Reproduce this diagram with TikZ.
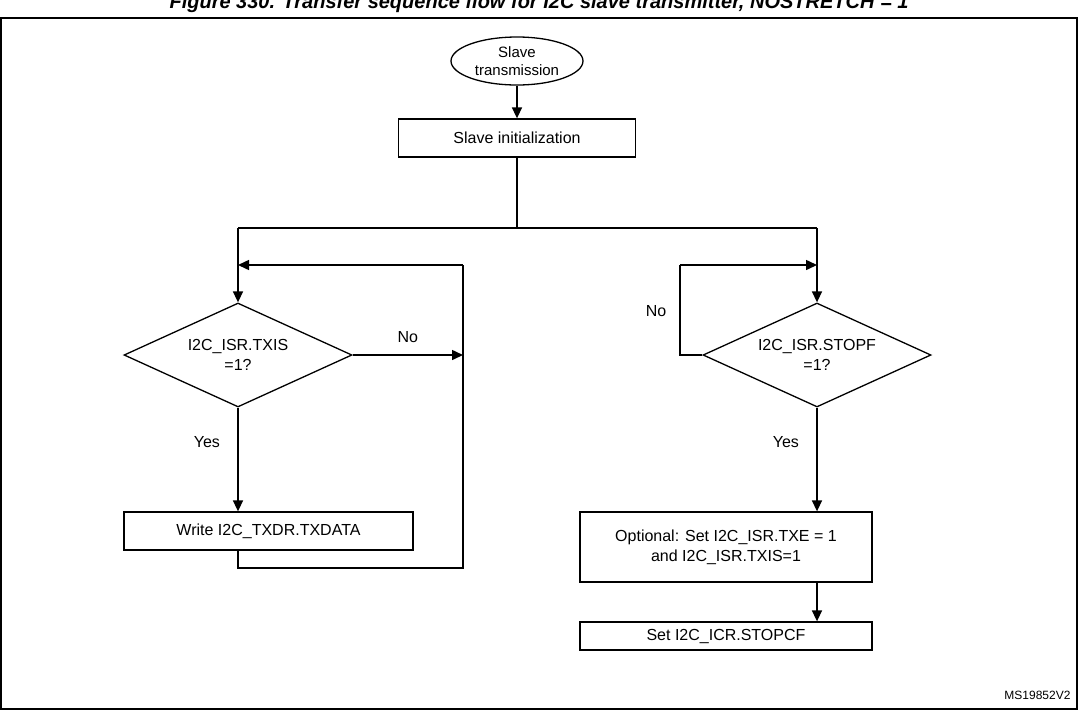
\documentclass[tikz,border=0pt]{standalone}
\usepackage{fontspec}
\setmainfont{Liberation Sans}
\usetikzlibrary{shapes.geometric,arrows.meta}
\begin{document}
\begin{tikzpicture}[x=1pt,y=-1pt,
 box/.style={draw,line width=1.3pt,minimum height=38pt,align=center,font=\fontsize{16}{20}\selectfont},
 dia/.style={draw,diamond,aspect=2.2,line width=1.3pt,minimum width=228pt,minimum height=104pt,inner sep=0pt,align=center,font=\fontsize{16}{20}\selectfont},
 lab/.style={font=\fontsize{16}{20}\selectfont},
 arr/.style={line width=1.5pt,-{Triangle[length=11pt,width=10pt]}},
 ln/.style={line width=1.5pt}]
\useasboundingbox (0,0) rectangle (1079,710);
\begin{scope}
\clip (0,0) rectangle (1079,710);
\node[font=\bfseries\itshape\fontsize{20}{24}\selectfont] (title) at (539,3) {Figure 330. Transfer sequence flow for I2C slave transmitter, NOSTRETCH = 1};
\end{scope}
\draw[line width=1.5pt] (1,18) rectangle (1077,709);
\node[draw,ellipse,line width=1.3pt,minimum width=132pt,minimum height=48pt,inner sep=0pt,align=center,font=\fontsize{15}{18}\selectfont] (start) at (517,61) {Slave\\transmission};
\node[box,minimum width=237pt] (init) at (517,138) {Slave initialization};
\node[dia] (d1) at (238,355) {I2C\_ISR.TXIS\\=1?};
\node[dia] (d2) at (817,355) {I2C\_ISR.STOPF\\=1?};
\node[box,minimum width=289pt] (w) at (268.5,531) {Write I2C\_TXDR.TXDATA};
\node[box,minimum width=292pt,minimum height=70pt] (opt) at (726,547) {Optional: Set I2C\_ISR.TXE = 1\\and I2C\_ISR.TXIS=1};
\node[box,minimum width=292pt,minimum height=28pt] (stop) at (726,636) {Set I2C\_ICR.STOPCF};
\coordinate (s) at (517,228);
\coordinate (l) at (238,228);
\coordinate (r) at (817,228);
\coordinate (ltop) at (463,265);
\coordinate (lj) at (238,265);
\coordinate (lb1) at (238,568);
\coordinate (lb2) at (463,568);
\coordinate (ln) at (463,355);
\coordinate (rl1) at (680,355);
\coordinate (rl2) at (680,265);
\coordinate (rj) at (817,265);
\draw[arr] (start) -- (init);
\draw[ln] (init) -- (s);
\draw[ln] (l) -- (r);
\draw[arr] (l) -- (d1.north);
\draw[arr] (r) -- (d2.north);
\draw[arr] (d1.east) -- (ln) node[lab,pos=0.5,above=8pt] (no1) {No};
\draw[arr] (d1.south) -- (w.north -| d1.south) node[lab,pos=0.33,left=14pt] (y1) {Yes};
\draw[ln] (w.south -| d1.south) -- (lb1) -- (lb2) -- (ltop);
\draw[arr] (ltop) -- (lj);
\draw[ln] (d2.west) -- (rl1) -- (rl2);
\draw[arr] (rl2) -- (rj);
\node[lab] (no2) at (656,311) {No};
\draw[arr] (d2.south) -- (opt.north -| d2.south) node[lab,pos=0.33,left=14pt] (y2) {Yes};
\draw[arr] (opt.south -| d2.south) -- (stop.north -| d2.south);
\node[font=\fontsize{12}{14}\selectfont,anchor=east] (ms) at (1074,695) {MS19852V2};
\end{tikzpicture}
\end{document}
